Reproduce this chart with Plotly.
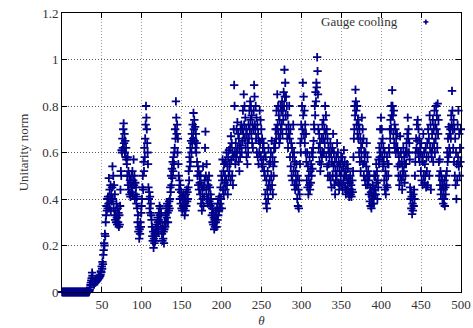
import plotly.graph_objects as go

# Unitarity norm, two samples per unit of theta
norm_000_100 = [
    0, 0, 0, 0, 0, 0, 0, 0, 0, 0, 0, 0, 0, 0, 0, 0, 0, 0, 0, 0,
    0, 0, 0, 0, 0, 0, 0, 0, 0, 0, 0, 0, 0, 0, 0, 0, 0, 0, 0, 0,
    0, 0, 0, 0, 0, 0, 0, 0, 0, 0, 0, 0, 0, 0, 0, 0, 0, 0, 0, 0,
    0, 0, 0, 0, 0, 0, 0, 0,
    0.005, 0.01, 0.02, 0.03, 0.04, 0.05,
    0.06, 0.083, 0.07, 0.045,
    0.035, 0.04, 0.032, 0.045, 0.04, 0.048, 0.042, 0.05, 0.046, 0.055,
    0.05, 0.058, 0.055, 0.06, 0.065, 0.062, 0.07, 0.068,
    0.075, 0.09, 0.085, 0.11, 0.1, 0.13, 0.12, 0.16,
    0.18, 0.21, 0.2, 0.25, 0.24, 0.3,
    0.33, 0.37, 0.35, 0.4, 0.36, 0.41,
    0.38, 0.49, 0.36, 0.44, 0.4, 0.46, 0.35, 0.42, 0.39,
    0.45, 0.54, 0.4, 0.5, 0.36, 0.46, 0.33, 0.42, 0.31,
    0.35, 0.3, 0.38, 0.32, 0.29, 0.36, 0.3, 0.34, 0.28, 0.33, 0.29, 0.37,
    0.44, 0.52, 0.5, 0.61,
    0.6, 0.66, 0.62, 0.7, 0.725, 0.64, 0.68, 0.6, 0.65, 0.58, 0.62, 0.57,
    0.55, 0.5, 0.58, 0.46, 0.52, 0.44, 0.5, 0.42, 0.48, 0.41, 0.47, 0.43, 0.5,
    0.45, 0.52, 0.42, 0.48, 0.57, 0.46, 0.5, 0.4, 0.47, 0.42, 0.45, 0.38, 0.41,
    0.36, 0.3, 0.33, 0.26, 0.28, 0.23, 0.27, 0.25, 0.3, 0.28, 0.34, 0.37,
]
norm_100_200 = [
    0.4, 0.45, 0.5, 0.44, 0.56, 0.52, 0.62, 0.58,
    0.66, 0.72, 0.8, 0.75, 0.7, 0.64, 0.6, 0.55,
    0.45, 0.4, 0.43, 0.36, 0.41, 0.34, 0.38, 0.33, 0.31,
    0.28, 0.24, 0.22, 0.26, 0.19, 0.23, 0.21, 0.25, 0.22, 0.27, 0.24, 0.29, 0.26,
    0.28, 0.32, 0.3, 0.26, 0.34, 0.31, 0.37, 0.33, 0.36, 0.3, 0.34, 0.27,
    0.25, 0.22, 0.28, 0.23, 0.26, 0.21, 0.27, 0.3,
    0.28, 0.33, 0.3, 0.36, 0.32, 0.38, 0.34, 0.3, 0.37, 0.35, 0.39, 0.36,
    0.4, 0.45, 0.43, 0.5, 0.46, 0.53, 0.49, 0.56, 0.52, 0.58, 0.55, 0.6,
    0.62, 0.7, 0.66, 0.82, 0.75, 0.68, 0.72, 0.6, 0.66, 0.55,
    0.5, 0.44, 0.48, 0.4, 0.46, 0.38, 0.43, 0.36, 0.41, 0.35, 0.4, 0.37,
    0.42, 0.36, 0.4, 0.33, 0.38, 0.35, 0.42, 0.37, 0.44, 0.39, 0.43, 0.4,
    0.45, 0.52, 0.48, 0.58, 0.54, 0.62, 0.56, 0.65,
    0.6, 0.68, 0.64, 0.72, 0.66, 0.77, 0.7, 0.74, 0.65, 0.71, 0.62, 0.68, 0.6, 0.64,
    0.56, 0.5, 0.54, 0.46, 0.52, 0.44, 0.5, 0.47,
    0.42, 0.5, 0.38, 0.46, 0.35, 0.44, 0.4, 0.54, 0.37, 0.45, 0.41, 0.48,
    0.62, 0.69,
    0.5, 0.44, 0.55, 0.4, 0.48, 0.38, 0.46, 0.42, 0.5, 0.39, 0.45, 0.37, 0.42, 0.4,
    0.38, 0.33, 0.36, 0.3, 0.34, 0.29, 0.32, 0.27, 0.31, 0.28, 0.35,
    0.3, 0.33, 0.28, 0.36, 0.31, 0.38, 0.33, 0.4, 0.35, 0.41, 0.36,
]
norm_200_300 = [
    0.38, 0.45, 0.4, 0.5, 0.36, 0.48, 0.57, 0.44, 0.52, 0.42, 0.55, 0.47,
    0.5, 0.44, 0.56, 0.48, 0.6, 0.46, 0.54, 0.42, 0.58, 0.5, 0.61, 0.52,
    0.55, 0.62, 0.48, 0.67, 0.57, 0.64, 0.5, 0.6, 0.46, 0.58,
    0.7, 0.89, 0.8, 0.6,
    0.55, 0.64, 0.58, 0.7, 0.6, 0.73, 0.62, 0.68, 0.56, 0.66, 0.52, 0.62, 0.58, 0.7, 0.63, 0.72,
    0.6, 0.7, 0.65, 0.78, 0.68, 0.85, 0.72, 0.8, 0.66, 0.75,
    0.62, 0.7, 0.58, 0.68, 0.55, 0.64, 0.6, 0.72, 0.66, 0.78,
    0.7, 0.82, 0.74, 0.8, 0.68, 0.76, 0.64, 0.72, 0.62, 0.7,
    0.78, 0.89, 0.84, 0.72,
    0.7, 0.8, 0.66, 0.75, 0.6, 0.72, 0.58, 0.68, 0.55, 0.65,
    0.6, 0.78, 0.64, 0.74, 0.58, 0.7, 0.55, 0.66, 0.54, 0.62, 0.57, 0.64, 0.52, 0.6,
    0.5, 0.42, 0.58, 0.38, 0.48, 0.36, 0.44, 0.52, 0.4, 0.62, 0.46, 0.55,
    0.48, 0.56, 0.44, 0.6, 0.5, 0.65, 0.46, 0.58, 0.42, 0.54, 0.5, 0.62, 0.56, 0.64,
    0.62, 0.7, 0.66, 0.78, 0.7, 0.85, 0.72, 0.8, 0.68, 0.76, 0.64, 0.74, 0.66, 0.8, 0.7, 0.78,
    0.72, 0.82, 0.68, 0.78, 0.74, 0.86, 0.8, 0.956, 0.84, 0.9,
    0.76, 0.84, 0.7, 0.8, 0.66, 0.76, 0.62, 0.72, 0.68, 0.8,
    0.66, 0.58, 0.7, 0.54, 0.64, 0.5, 0.62, 0.48, 0.58, 0.72, 0.52, 0.6, 0.46, 0.56, 0.44, 0.52, 0.48, 0.55,
    0.46, 0.4, 0.5, 0.37, 0.44, 0.36, 0.48, 0.42,
]
norm_300_400 = [
    0.55, 0.64, 0.6, 0.72, 0.66, 0.8, 0.7, 0.9, 0.76, 0.84, 0.68, 0.78, 0.64, 0.72, 0.6, 0.68,
    0.56, 0.48, 0.6, 0.45, 0.54, 0.42, 0.5, 0.46, 0.58, 0.44, 0.52, 0.47, 0.55, 0.5, 0.6, 0.53, 0.58, 0.62,
    0.65, 0.72, 0.7, 0.8, 0.76, 0.86, 0.82, 0.9, 0.88, 1.01, 0.95, 0.85,
    0.7, 0.62, 0.68, 0.56, 0.64, 0.52, 0.6, 0.55, 0.66, 0.58, 0.72, 0.6,
    0.66, 0.74, 0.6, 0.7, 0.64, 0.8, 0.68, 0.76, 0.58, 0.7, 0.54, 0.66, 0.5, 0.62, 0.55, 0.6,
    0.58, 0.5, 0.64, 0.48, 0.6, 0.45, 0.56, 0.62, 0.5, 0.68, 0.54, 0.6, 0.46, 0.56, 0.42,
    0.52, 0.48, 0.58, 0.5, 0.64, 0.54, 0.6, 0.47, 0.56, 0.44, 0.52, 0.46, 0.55, 0.5, 0.58,
    0.52, 0.46, 0.58, 0.44, 0.54, 0.48, 0.61, 0.5, 0.56, 0.45, 0.52, 0.42, 0.5, 0.44, 0.55,
    0.47, 0.53, 0.43, 0.49, 0.41, 0.47, 0.43, 0.5, 0.42, 0.46, 0.41, 0.44, 0.48, 0.43, 0.52,
    0.58, 0.66, 0.7, 0.8, 0.76, 0.87, 0.82, 0.78, 0.72, 0.8, 0.68, 0.74,
    0.66, 0.72, 0.6, 0.7, 0.56, 0.66, 0.52, 0.62, 0.58, 0.75, 0.64, 0.7, 0.55, 0.66, 0.5, 0.6,
    0.56, 0.48, 0.6, 0.46, 0.54, 0.64, 0.5, 0.58, 0.46, 0.52,
    0.48, 0.42, 0.5, 0.39, 0.45, 0.37, 0.43, 0.36, 0.41, 0.38, 0.46, 0.4, 0.44, 0.38, 0.5, 0.42,
    0.44, 0.5, 0.42, 0.55, 0.47, 0.52, 0.4, 0.48, 0.45, 0.57,
    0.55, 0.62, 0.58, 0.7, 0.6, 0.75,
]
norm_400_500 = [
    0.64, 0.7, 0.58, 0.66, 0.54, 0.62,
    0.56, 0.48, 0.6, 0.44, 0.52, 0.42, 0.5, 0.46, 0.58, 0.45, 0.55, 0.5,
    0.55, 0.62, 0.6, 0.7,
    0.66, 0.74, 0.7, 0.8, 0.76, 0.868, 0.8, 0.76, 0.68, 0.78, 0.64, 0.72, 0.62, 0.7, 0.6, 0.66, 0.62, 0.68,
    0.62, 0.54, 0.6, 0.5, 0.58, 0.46, 0.55, 0.67, 0.5, 0.6, 0.48, 0.56,
    0.44, 0.54, 0.5, 0.62, 0.52, 0.58, 0.47, 0.55, 0.5, 0.6, 0.55, 0.64,
    0.6, 0.68, 0.75, 0.66, 0.7, 0.6, 0.64, 0.57,
    0.45, 0.4, 0.43, 0.36, 0.41, 0.335, 0.38, 0.35, 0.42, 0.37, 0.44, 0.4,
    0.5, 0.56, 0.6, 0.66, 0.62, 0.72, 0.65, 0.74, 0.6, 0.7, 0.58, 0.66, 0.56, 0.62,
    0.6, 0.52, 0.64, 0.48, 0.58, 0.46, 0.56, 0.68, 0.5, 0.6, 0.47, 0.55, 0.5, 0.62, 0.45, 0.58,
    0.52, 0.64, 0.46, 0.7, 0.58, 0.66, 0.5, 0.76, 0.62, 0.72, 0.44, 0.6,
    0.58, 0.68, 0.62, 0.74, 0.56, 0.7, 0.64, 0.78, 0.6, 0.72, 0.66, 0.8, 0.7, 0.76, 0.62, 0.81, 0.68, 0.74,
    0.56, 0.5, 0.57, 0.46, 0.52, 0.42, 0.5, 0.44, 0.48, 0.4,
    0.46, 0.38, 0.44, 0.4, 0.48, 0.37, 0.45, 0.42, 0.5, 0.46,
    0.52, 0.6, 0.56, 0.66, 0.58, 0.71, 0.62, 0.68, 0.6, 0.7, 0.66, 0.76, 0.72, 0.865, 0.78, 0.7,
    0.62, 0.74, 0.56, 0.7, 0.5, 0.66, 0.46, 0.6, 0.4, 0.55,
    0.48, 0.72, 0.58, 0.78, 0.54, 0.68, 0.5, 0.62, 0.56, 0.7,
]

norm = norm_000_100 + norm_100_200 + norm_200_300 + norm_300_400 + norm_400_500
theta_step = 0.5
theta = [theta_step * i + theta_step / 2 for i in range(len(norm))]

x_ticks = [50, 100, 150, 200, 250, 300, 350, 400, 450, 500]
y_ticks = [0, 0.2, 0.4, 0.6, 0.8, 1.0, 1.2]
y_tick_text = ["0", "0.2", "0.4", "0.6", "0.8", "1", "1.2"]
legend_label = "Gauge cooling"

NAVY = "#00008b"
FONT = "Liberation Serif"
TEXT = "#333333"

fig = go.Figure()
fig.add_trace(go.Scatter(
    x=theta, y=norm, mode="markers", name=legend_label,
    marker=dict(symbol="cross-thin", size=6, color=NAVY,
                line=dict(color=NAVY, width=1.8)),
    cliponaxis=False, showlegend=False,
))

axis_common = dict(
    showline=True, linecolor="black", linewidth=1, mirror="ticks",
    ticks="inside", ticklen=5, tickcolor="black", tickwidth=1,
    showgrid=True, griddash="1px,2px", gridwidth=1,
    zeroline=False, automargin=False,
    tickfont=dict(family=FONT, size=13, color=TEXT),
)

# legend key: small "+" to the right of the label (gnuplot style)
kx, ky = 0.912, 0.968
key_style = dict(type="line", xref="paper", yref="paper",
                 xsizemode="pixel", ysizemode="pixel",
                 xanchor=kx, yanchor=ky, line=dict(color=NAVY, width=1.6))
shapes = [
    dict(x0=-2.5, x1=2.5, y0=0, y1=0, **key_style),
    dict(x0=0, x1=0, y0=-2.5, y1=2.5, **key_style),
]

fig.update_layout(
    width=473, height=328,
    margin=dict(l=62, r=12, t=13, b=36),
    paper_bgcolor="white", plot_bgcolor="white",
    font=dict(family=FONT, size=13, color=TEXT),
    xaxis=dict(range=[0, 500], tickvals=x_ticks, gridcolor="#9a9a9a",
               title=dict(text="<i>θ</i>", standoff=6,
                          font=dict(family=FONT, size=13, color=TEXT)),
               **axis_common),
    yaxis=dict(range=[0, 1.2], tickvals=y_ticks, ticktext=y_tick_text,
               gridcolor="#5a5a5a",
               title=dict(text="Unitarity norm", standoff=10,
                          font=dict(family=FONT, size=13, color=TEXT)),
               **axis_common),
    annotations=[dict(
        text=legend_label, xref="paper", yref="paper", x=0.847, y=ky,
        xanchor="right", yanchor="middle", showarrow=False,
        font=dict(family=FONT, size=13, color=TEXT),
    )],
    shapes=shapes,
    showlegend=False,
)

fig.write_html("out.html")
